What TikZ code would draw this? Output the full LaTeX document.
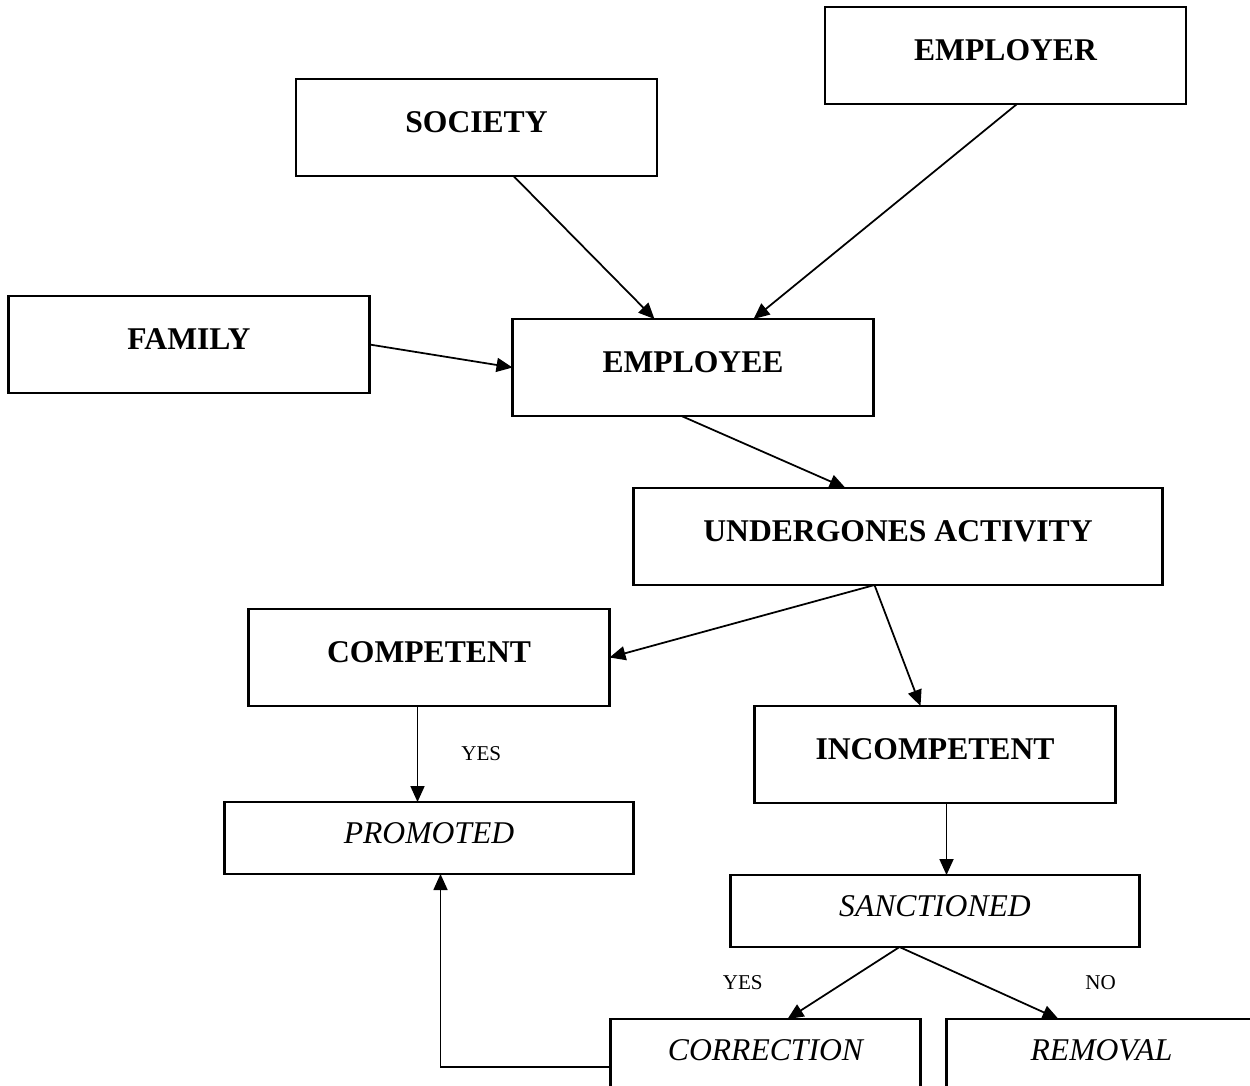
\documentclass[tikz,border=0pt]{standalone}
\usepackage{fontspec}
\setmainfont{Liberation Serif}
\usetikzlibrary{positioning,arrows.meta}
\tikzstyle{CajaFactor}=[rectangle, draw=black, line width=1.2pt, inner sep=0pt, outer sep=0pt, minimum width=7.22cm, minimum height=1.94cm, text depth=0.2cm, font=\fontsize{18}{22}\selectfont\bfseries]
\tikzstyle{CajaResultado}=[rectangle, draw=black, line width=1.2pt, inner sep=0pt, outer sep=0pt, minimum width=8.18cm, minimum height=1.44cm, text depth=0.2cm, font=\fontsize{18}{22}\selectfont\itshape]
\tikzstyle{Etiqueta}=[inner sep=0pt, font=\fontsize{12}{14}\selectfont]
\tikzstyle{Flecha}=[-{Triangle[length=0.32cm,width=0.28cm]}, line width=1pt]

\begin{document}
\begin{tikzpicture}
			%Marco
			\useasboundingbox (0,0) rectangle (25,-21.7);

			%Cajas
			\node[CajaFactor]		(employer)		at (20.11,-1.11)							{EMPLOYER};
			\node[CajaFactor]		(society)		[below left=0.47cm and 3.36cm of employer.west]		{SOCIETY};
			\node[CajaFactor]		(employee)		[below right=2.86cm and 0.72cm of society.south]	{EMPLOYEE};
			\node[CajaFactor]		(family)		[above left=0.46cm and 2.86cm of employee.south west]	{FAMILY};

			\node[CajaFactor, minimum width=10.58cm]	(activity)	[below right=1.44cm and 2.42cm of employee.south west]	{UNDERGONES ACTIVITY};
			\node[CajaFactor]		(competent)		[below left=0.48cm and 0.48cm of activity.south west]	{COMPETENT};
			\node[CajaFactor]		(incompetent)	[below right=0cm and 2.9cm of competent.south east]	{INCOMPETENT};

			\node[CajaResultado]	(promoted)		[below=1.92cm of competent]				{PROMOTED};
			\node[CajaResultado]	(sanctioned)	[below=1.44cm of incompetent]				{SANCTIONED};
			\node[CajaResultado, minimum width=6.2cm]	(correction)	[below left=1.44cm and 0.29cm of sanctioned.south]	{CORRECTION};
			\node[CajaResultado, minimum width=6.2cm]	(removal)		[right=0.52cm of correction]		{REMOVAL};

			%Flechas
			\draw[Flecha] ([xshift=0.74cm]society.south) -- ([xshift=-0.77cm]employee.north);
			\draw[Flecha] ([xshift=0.23cm]employer.south) -- ([xshift=1.21cm]employee.north);
			\draw[Flecha] (family.east) -- (employee.west);
			\draw[Flecha] ([xshift=-0.23cm]employee.south) -- ([xshift=-1.05cm]activity.north);
			\draw[Flecha] ([xshift=-0.47cm]activity.south) -- (competent.east);
			\draw[Flecha] ([xshift=-0.47cm]activity.south) -- ([xshift=-0.29cm]incompetent.north);
			\draw[Flecha] ([xshift=-0.23cm]competent.south) -- ([xshift=-0.23cm]promoted.north)
				node[Etiqueta, midway, right=0.86cm] (yes_competent) {YES};
			\draw[Flecha] ([xshift=0.23cm]incompetent.south) -- ([xshift=0.23cm]sanctioned.north);
			\draw[Flecha] ([xshift=-0.71cm]sanctioned.south) -- ([xshift=0.44cm]correction.north)
				node[Etiqueta, midway, left=1.6cm] (yes_sanctioned) {YES};
			\draw[Flecha] ([xshift=-0.71cm]sanctioned.south) -- ([xshift=-0.86cm]removal.north)
				node[Etiqueta, midway, right=2.11cm] (no_sanctioned) {NO};
			\draw[Flecha] ([yshift=-0.24cm]correction.west) -| ([xshift=0.23cm]promoted.south);

		\end{tikzpicture}
\end{document}
